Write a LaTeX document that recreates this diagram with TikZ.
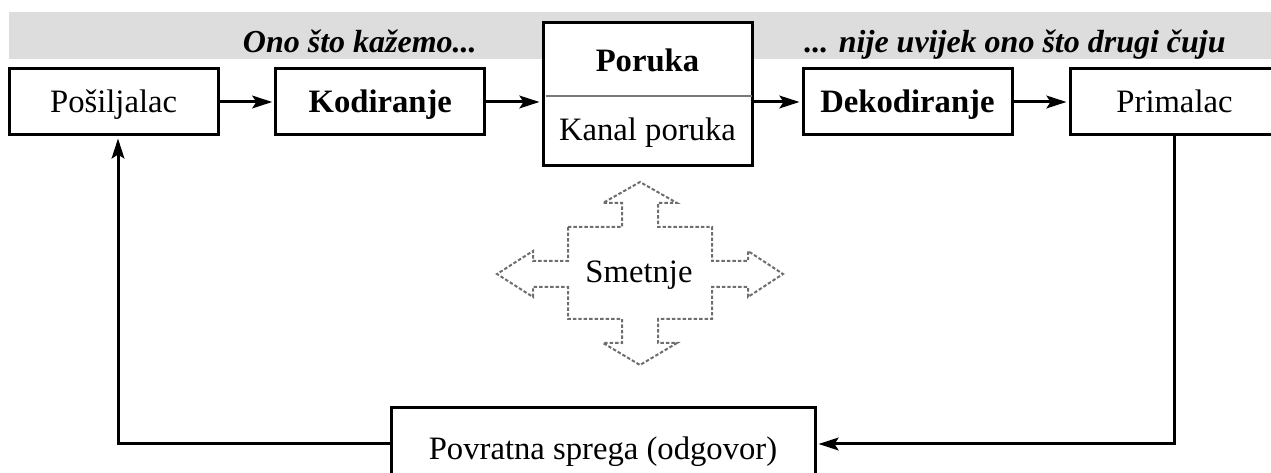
\documentclass[tikz,border=0pt]{standalone}
\usepackage{fontspec}
\setmainfont{Liberation Serif}
\usetikzlibrary{arrows.meta,calc}
\definecolor{bandgray}{RGB}{221,221,221}
\definecolor{dotgray}{RGB}{110,110,110}
\definecolor{divgray}{RGB}{120,120,120}
\begin{document}
\begin{tikzpicture}[x=0.75pt,y=-0.75pt,
  txt/.style={font=\fontsize{24.5}{28}\selectfont,inner sep=0pt},
  box/.style={txt,draw,line width=2.25pt,fill=white,minimum width=156.75pt,minimum height=49.5pt,text height=18pt,text depth=1.5pt},
  conn/.style={line width=2.25pt,shorten >=1.5pt,-{Stealth[length=15pt,width=9.5pt,inset=3pt]}},
  bandtxt/.style={font=\fontsize{24}{28}\selectfont\bfseries\itshape,inner sep=0pt},
  noise/.style={draw=dotgray,line width=1.5pt,dash pattern=on 2.6pt off 1.5pt}
]
\useasboundingbox (0,0) rectangle (1271,473);
% band
\fill[bandgray] (8.6,12) rectangle (1271,58.7);
\node[bandtxt,anchor=base east] (said) at (477,53) {Ono što kažemo...};
\node[bandtxt,anchor=base west] (heard) at (804,53) {... nije uvijek ono što drugi čuju};
% boxes
\node[box] (pos) at (113.6,102) {Pošiljalac};
\node[box,font=\fontsize{24.5}{28}\selectfont\bfseries] (kod) at (380.3,102) {Kodiranje};
\node[box,minimum height=107.25pt] (por) at (647.5,94.5) {};
\coordinate (divy) at (0,96);
\draw[divgray,line width=0.9pt] ([xshift=3pt]por.west |- divy) -- ([xshift=-1.5pt]por.east |- divy);
\node[txt,anchor=base,font=\fontsize{24.5}{28}\selectfont\bfseries] (porukatxt) at (647.5,72) {Poruka};
\node[txt,anchor=base] (kanal) at (647.5,141) {Kanal poruka};
\node[box,font=\fontsize{24.5}{28}\selectfont\bfseries] (dek) at (907.5,102) {Dekodiranje};
\node[box] (pri) at (1174.5,102) {Primalac};
% feedback
\node[draw,line width=2.25pt,fill=white,minimum width=318pt,minimum height=54pt,inner sep=0pt] (fb) at (603,444) {};
\node[txt,anchor=base] (fbtxt) at (603,460) {Povratna sprega (odgovor)};
% connectors
\draw[conn] (pos.east) -- (kod.west);
\draw[conn] (kod.east) -- (por.west |- kod.east);
\draw[conn] (por.east |- dek.west) -- (dek.west);
\draw[conn] (dek.east) -- (pri.west);
\draw[conn] (pri.south) |- (fb.east);
\coordinate (upx) at (118,0);
\draw[conn] (fb.west) -| (upx |- pos.south);
% noise cross
\draw[noise] (568,227) -- (622,227) -- (622,203) -- (603,203) -- (640,182) -- (677,203) -- (658,203) -- (658,227) -- (712,227) -- (712,261) -- (748,261) -- (748,251) -- (783,274) -- (748,297) -- (748,287) -- (712,287) -- (712,319) -- (658,319) -- (658,343) -- (677,343) -- (640,365) -- (603,343) -- (622,343) -- (622,319) -- (568,319) -- (568,287) -- (533,287) -- (533,297) -- (497,274) -- (533,251) -- (533,261) -- (568,261) -- cycle;
\node[txt,anchor=base] (smetnje) at (639,283) {Smetnje};
\end{tikzpicture}
\end{document}
